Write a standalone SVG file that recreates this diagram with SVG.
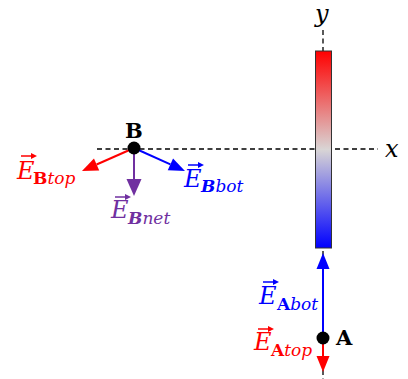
<svg xmlns="http://www.w3.org/2000/svg" width="408" height="379" viewBox="0 0 408 379">
<defs>
<linearGradient id="rodGrad" x1="0" y1="0" x2="0" y2="1">
<stop offset="0" stop-color="#ff0000"/>
<stop offset="0.5" stop-color="#d9d5d5"/>
<stop offset="1" stop-color="#0000ff"/>
</linearGradient>
<marker id="hRed" markerUnits="userSpaceOnUse" markerWidth="16" markerHeight="13" refX="0" refY="6.5" orient="auto" overflow="visible"><path d="M0,0 L16,6.5 L0,13 Z" fill="#ff0000"/></marker>
<marker id="hBlue" markerUnits="userSpaceOnUse" markerWidth="16" markerHeight="13" refX="0" refY="6.5" orient="auto" overflow="visible"><path d="M0,0 L16,6.5 L0,13 Z" fill="#0000ff"/></marker>
<marker id="hPurple" markerUnits="userSpaceOnUse" markerWidth="17" markerHeight="15" refX="0" refY="7.5" orient="auto" overflow="visible"><path d="M0,0 L17,7.5 L0,15 Z" fill="#7030a0"/></marker>
<marker id="vR" markerUnits="userSpaceOnUse" markerWidth="6" markerHeight="6" refX="0" refY="3" orient="auto" overflow="visible"><path d="M-1,0 L5,3 L-1,6 Z" fill="#ff0000"/></marker>
<marker id="vB" markerUnits="userSpaceOnUse" markerWidth="6" markerHeight="6" refX="0" refY="3" orient="auto" overflow="visible"><path d="M-1,0 L5,3 L-1,6 Z" fill="#0000ff"/></marker>
<marker id="vP" markerUnits="userSpaceOnUse" markerWidth="6" markerHeight="6" refX="0" refY="3" orient="auto" overflow="visible"><path d="M-1,0 L5,3 L-1,6 Z" fill="#7030a0"/></marker>
</defs>
<style>
.axis{stroke:#000;stroke-width:1.3;stroke-dasharray:5 3.5;fill:none}
.vec{stroke-width:2;fill:none}
.E{font-family:"DejaVu Serif","Liberation Serif",serif;font-style:italic;font-size:24px}
.sub{font-family:"DejaVu Serif","Liberation Serif",serif;font-style:italic;font-size:17px}
.bb{font-weight:bold;font-style:normal}
.bi{font-weight:bold;font-style:italic}
.ax{font-family:"DejaVu Serif","Liberation Serif",serif;font-style:italic;font-size:24px;fill:#000}
.pt{font-family:"DejaVu Serif","Liberation Serif",serif;font-weight:bold;font-size:21px;fill:#000}
.ov{stroke-width:1.5}
</style>

<g id="axes">
<line class="axis" x1="97" y1="149" x2="378" y2="149"/>
<line class="axis" x1="323" y1="30" x2="323" y2="379"/>
<text class="ax" x="385" y="157">x</text>
<text class="ax" x="315" y="22">y</text>
</g>

<g id="rod">
<rect x="315.5" y="51" width="16" height="197" fill="url(#rodGrad)" stroke="#333" stroke-width="1"/>
</g>

<g id="connectors">
<line class="vec" stroke="#ff0000" x1="134" y1="148" x2="96.6" y2="164.5" marker-end="url(#hRed)"/>
<line class="vec" stroke="#0000ff" x1="134" y1="148" x2="170.4" y2="164.4" marker-end="url(#hBlue)"/>
<line class="vec" stroke="#7030a0" stroke-width="4" x1="134" y1="148" x2="134" y2="179" marker-end="url(#hPurple)"/>
<line class="vec" stroke="#0000ff" x1="323" y1="338" x2="323" y2="269" marker-end="url(#hBlue)"/>
<line class="vec" stroke="#ff0000" x1="323" y1="338" x2="323" y2="356" marker-end="url(#hRed)"/>
</g>

<g id="pointB">
<circle cx="134" cy="148" r="6.5" fill="#000"/>
<text class="pt" x="125" y="138">B</text>
</g>

<g id="pointA">
<circle cx="323" cy="338" r="6.5" fill="#000"/>
<text class="pt" x="336" y="345">A</text>
</g>

<g id="label-EBtop" fill="#ff0000">
<text class="E" x="17" y="179">E</text>
<line class="ov" stroke="#ff0000" x1="21" y1="156" x2="32" y2="156" marker-end="url(#vR)"/>
<text class="sub" x="33" y="184"><tspan class="bb">B</tspan>top</text>
</g>

<g id="label-EBbot" fill="#0000ff">
<text class="E" x="184" y="187">E</text>
<line class="ov" stroke="#0000ff" x1="188" y1="165" x2="199" y2="165" marker-end="url(#vB)"/>
<text class="sub" x="201" y="192"><tspan class="bi">B</tspan>bot</text>
</g>

<g id="label-EBnet" fill="#7030a0">
<text class="E" x="111" y="218">E</text>
<line class="ov" stroke="#7030a0" x1="115" y1="197" x2="126" y2="197" marker-end="url(#vP)"/>
<text class="sub" x="128" y="224"><tspan class="bi">B</tspan>net</text>
</g>

<g id="label-EAbot" fill="#0000ff">
<text class="E" x="259" y="304">E</text>
<line class="ov" stroke="#0000ff" x1="263" y1="282" x2="274" y2="282" marker-end="url(#vB)"/>
<text class="sub" x="277" y="310"><tspan class="bb">A</tspan>bot</text>
</g>

<g id="label-EAtop" fill="#ff0000">
<text class="E" x="254" y="350">E</text>
<line class="ov" stroke="#ff0000" x1="258" y1="329" x2="269" y2="329" marker-end="url(#vR)"/>
<text class="sub" x="271" y="356"><tspan class="bb">A</tspan>top</text>
</g>
</svg>
